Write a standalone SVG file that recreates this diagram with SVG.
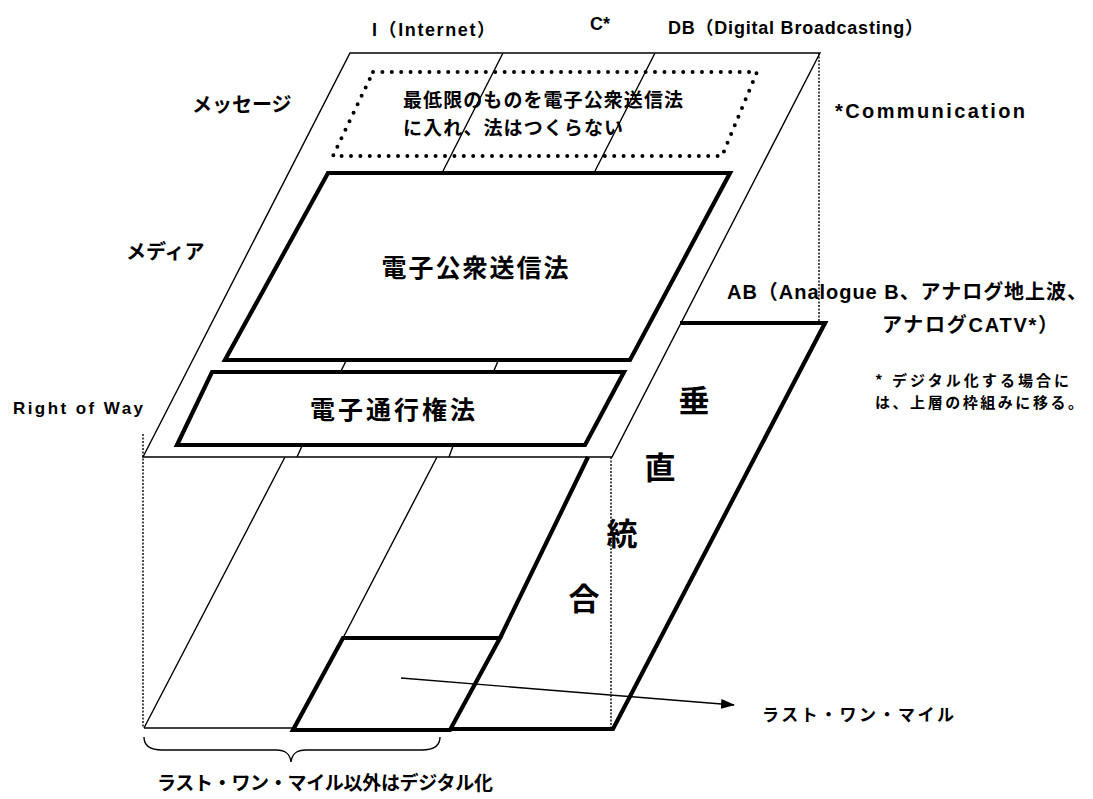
<svg xmlns="http://www.w3.org/2000/svg" width="1093" height="799" viewBox="0 0 1093 799">
<style>
.thin{fill:none;stroke:#000;stroke-width:1.4}
.thick{fill:none;stroke:#000;stroke-width:4.2;stroke-linejoin:miter}
.dotv{fill:none;stroke:#000;stroke-width:1.4;stroke-dasharray:2 1.5}
.dots{fill:none;stroke:#000;stroke-width:4;stroke-linecap:round;stroke-dasharray:0 9.4}
text{font-family:"Liberation Sans","Noto Sans CJK JP",sans-serif;font-weight:bold;fill:#000}
.jp{font-family:"Noto Sans CJK JP",sans-serif}
.big{font-family:"Noto Sans CJK JP",sans-serif;font-size:31px;text-anchor:middle}
</style>
<defs>
<marker id="arr" markerUnits="userSpaceOnUse" markerWidth="14" markerHeight="10" refX="13" refY="5" orient="auto">
<path d="M0,0 L14,5 L0,10 Z" fill="#000"/>
</marker>
</defs>
<rect width="1093" height="799" fill="#fff"/>

<g id="frame">
<path class="thin" d="M350,53 L820,53 L612,457 L143,457 Z"/>
<path class="thin" d="M144,728 L293,728"/>
<path class="dotv" d="M143,434 L143,728"/>
<path class="dotv" d="M611,457 L611,728"/>
<path class="dotv" d="M819,53 L819,323"/>
</g>

<g id="connectors">
<path class="thin" d="M503,53 L442,173 M346,361 L340,373 M302,446 L297,457 M285,457 L144,728"/>
<path class="thin" d="M655,53 L594,173 M498,361 L493,373 M453,446 L449,457 M437,457 L343,638"/>
<path class="thin" d="M401,678 L734,705" marker-end="url(#arr)"/>
<path class="thin" d="M144,737 C144,746 150,750 162,750 L276,750 C286,750 290,754 291,762 C292,754 296,750 306,750 L422,750 C434,750 440,746 440,737"/>
</g>

<g id="message">
<path class="dots" d="M373,72 L757,72 L722,156 L333,156 Z"/>
<text class="jp" font-size="19"><tspan x="403" y="107" textLength="280">最低限のものを電子公衆送信法</tspan><tspan x="403" y="135" textLength="220">に入れ、法はつくらない</tspan></text>
</g>

<g id="media">
<path class="thick" d="M328,173 L730,173 L630,360 L225,360 Z"/>
<text class="jp" x="476" y="277" font-size="25" letter-spacing="2" text-anchor="middle">電子公衆送信法</text>
</g>

<g id="right-of-way">
<path class="thick" d="M212,372 L624,372 L585,445 L177,445 Z"/>
<text class="jp" x="394" y="419" font-size="25" letter-spacing="3" text-anchor="middle">電子通行権法</text>
</g>

<g id="ab">
<path class="thick" d="M680,323 L825,323 L613,729 L450,729 M588,457 L500,638"/>
<text class="big" x="694" y="412">垂</text>
<text class="big" x="660" y="479">直</text>
<text class="big" x="622" y="545">統</text>
<text class="big" x="584" y="610">合</text>
</g>

<g id="last-mile">
<path class="thick" d="M343,638 L500,638 L450,730 L293,730 Z"/>
</g>

<g id="labels">
<text x="372" y="36" font-size="18" textLength="123">I（Internet）</text>
<text x="590" y="30" font-size="18">C*</text>
<text x="668" y="34" font-size="18" textLength="255">DB（Digital Broadcasting）</text>
<text class="jp" x="192" y="112" font-size="20">メッセージ</text>
<text x="835" y="118" font-size="20" textLength="190">*Communication</text>
<text class="jp" x="126" y="259" font-size="20">メディア</text>
<text x="13" y="414" font-size="17" textLength="130">Right of Way</text>
<text x="727" y="299" font-size="20" textLength="360">AB（Analogue B、アナログ地上波、</text>
<text x="882" y="332" font-size="20" textLength="176">アナログCATV*）</text>
<text class="jp" font-size="15"><tspan x="875" y="386" textLength="194">* デジタル化する場合に</tspan><tspan x="875" y="408" textLength="208">は、上層の枠組みに移る。</tspan></text>
<text class="jp" x="762" y="721" font-size="17" textLength="192">ラスト・ワン・マイル</text>
<text class="jp" x="157" y="790" font-size="19" textLength="336">ラスト・ワン・マイル以外はデジタル化</text>
</g>
</svg>
